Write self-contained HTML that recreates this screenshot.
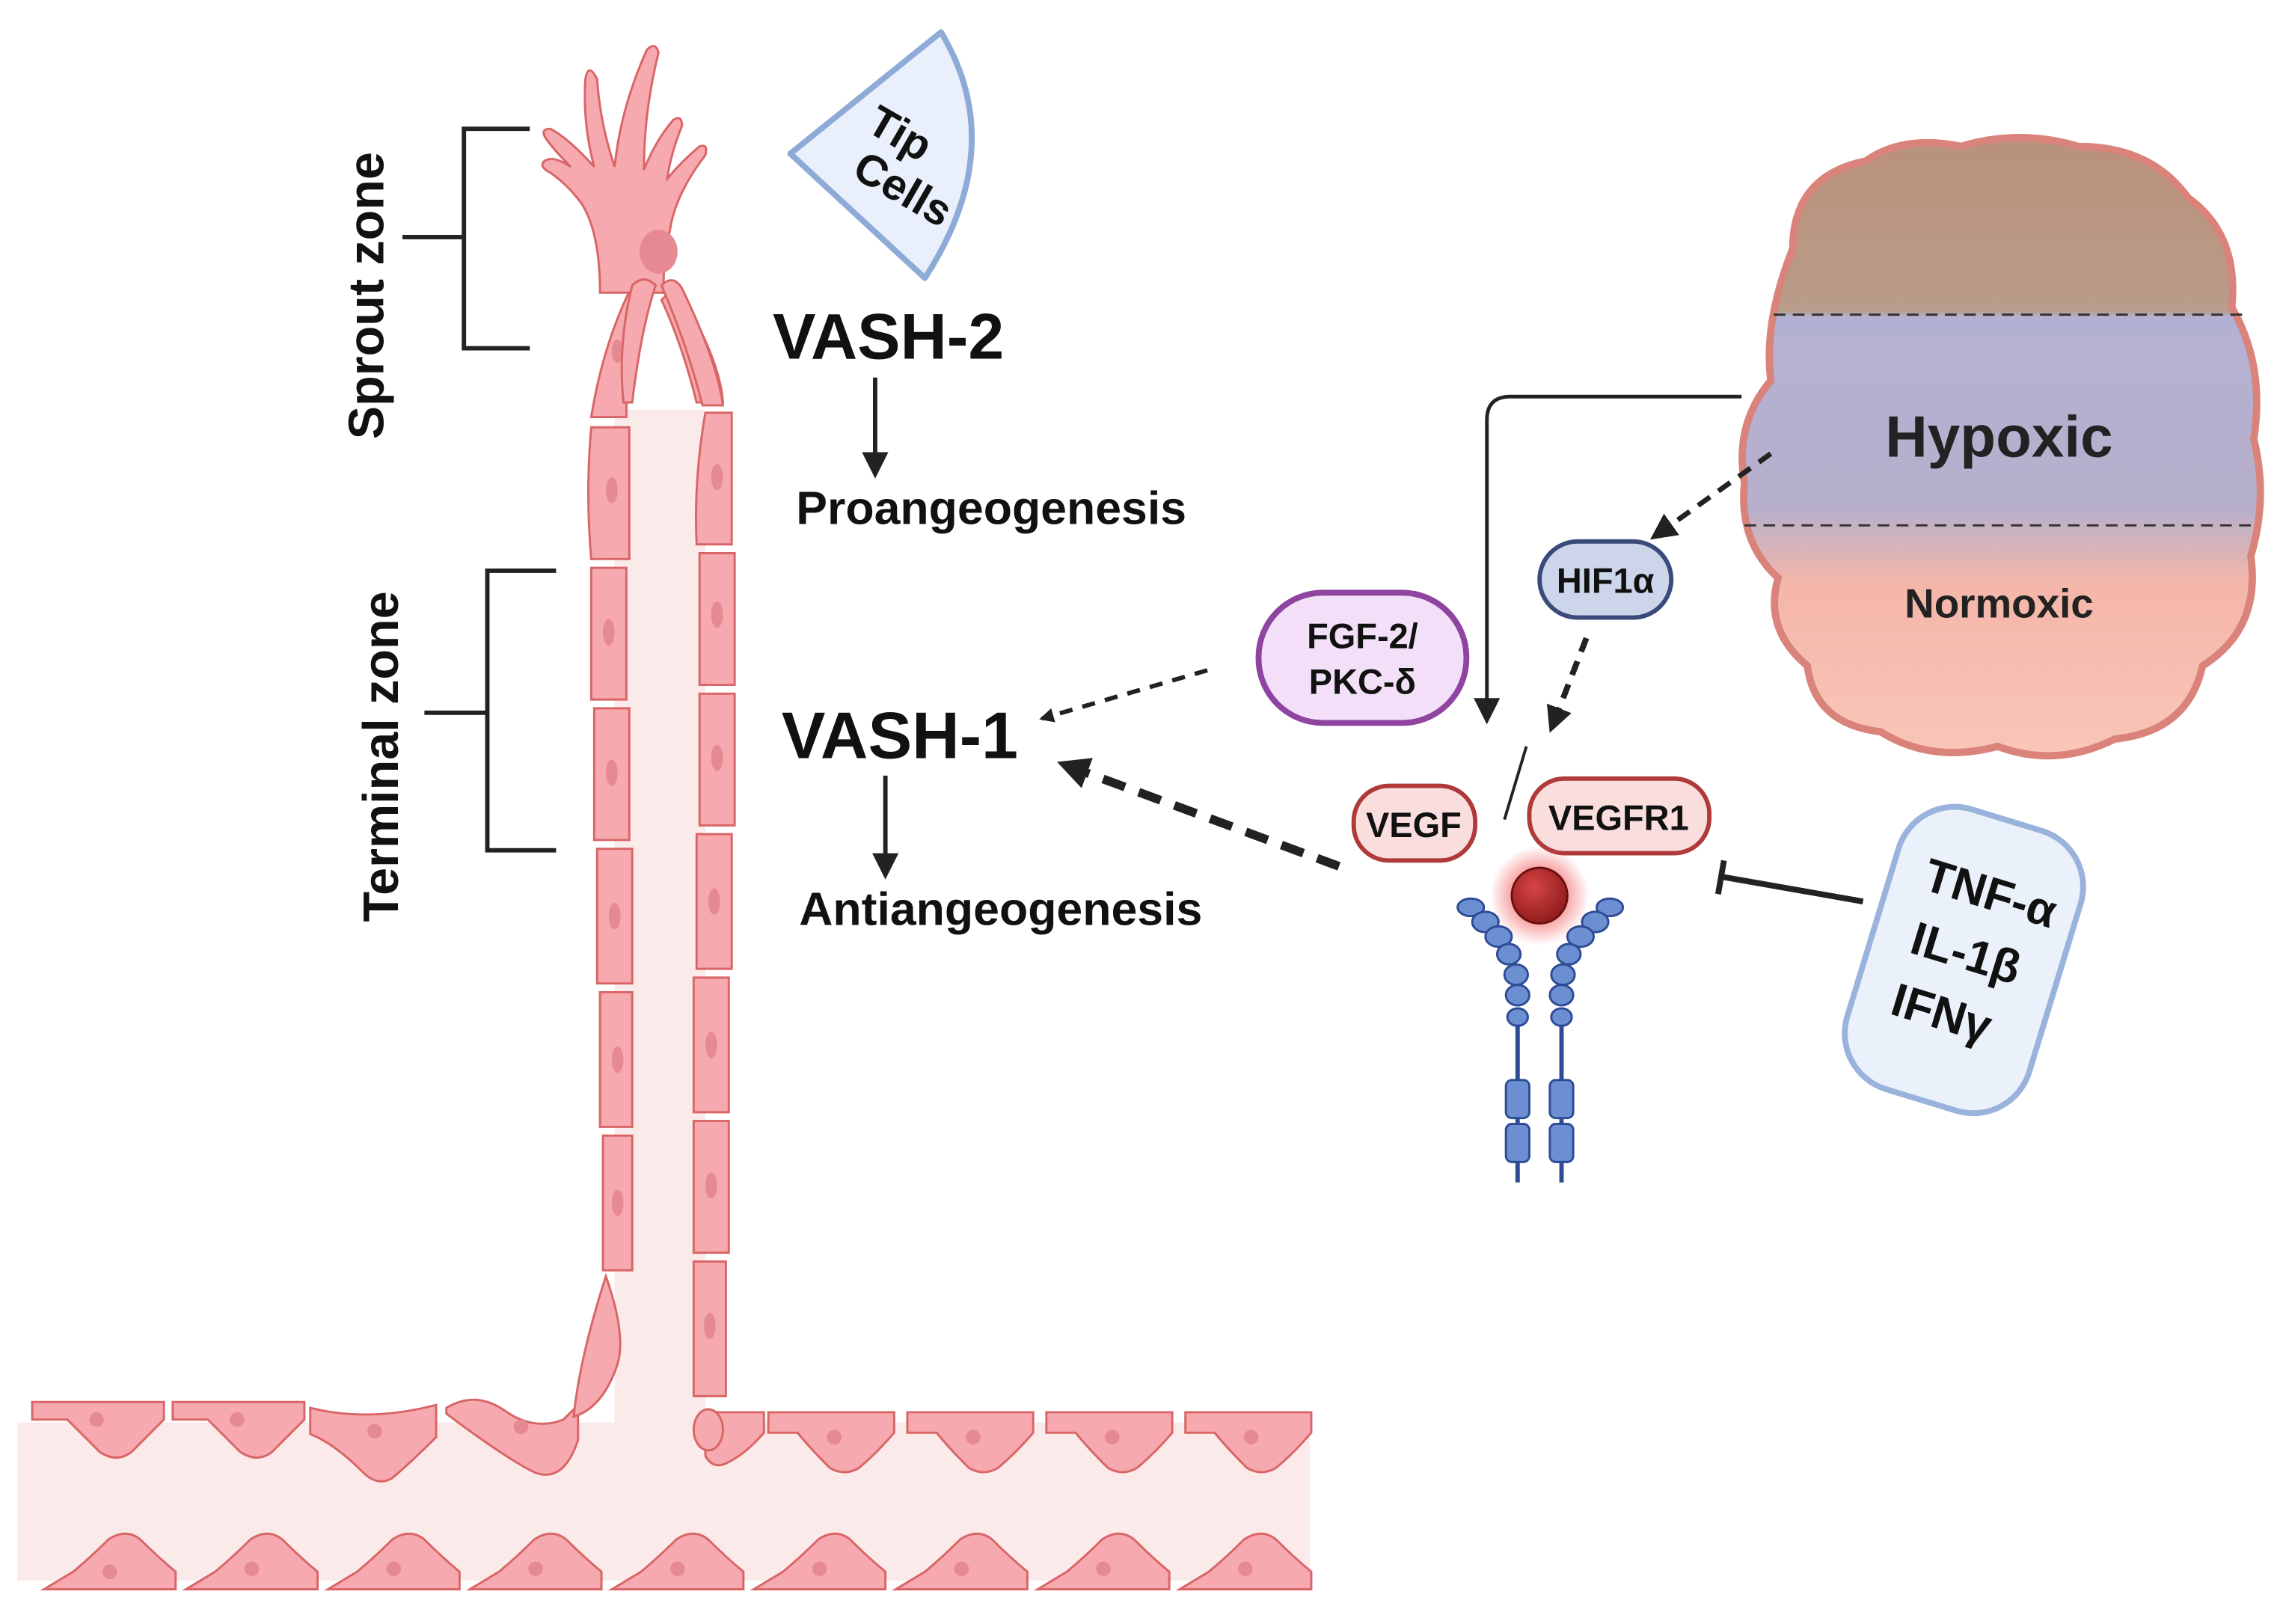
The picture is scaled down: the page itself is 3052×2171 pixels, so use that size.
<!DOCTYPE html>
<html><head><meta charset="utf-8"><style>
html,body{margin:0;padding:0;background:#fff;}
svg{display:block;}
text{font-family:"Liberation Sans",sans-serif;font-weight:bold;}
</style></head><body>
<svg width="3052" height="2171" viewBox="0 0 1560 1109.7" preserveAspectRatio="none" xmlns="http://www.w3.org/2000/svg">
<defs>
<marker id="ah" markerWidth="10" markerHeight="10" refX="8" refY="5" orient="auto" markerUnits="userSpaceOnUse"><path d="M0,0 L10,5 L0,10 Z" fill="#222"/></marker>
<marker id="ahL" markerWidth="22" markerHeight="22" refX="18" refY="11" orient="auto" markerUnits="userSpaceOnUse"><path d="M0,0 L22,11 L0,22 Z" fill="#222"/></marker>
<marker id="ahM" markerWidth="18" markerHeight="18" refX="15" refY="9" orient="auto" markerUnits="userSpaceOnUse"><path d="M0,0 L18,9 L0,18 Z" fill="#222"/></marker>
<linearGradient id="tum" x1="0" y1="0" x2="0" y2="1">
<stop offset="0" stop-color="#b9917a"/><stop offset="0.28" stop-color="#b99c8a"/>
<stop offset="0.29" stop-color="#b3b1d3"/><stop offset="0.6" stop-color="#b7b0cc"/>
<stop offset="0.72" stop-color="#f4b6a9"/><stop offset="1" stop-color="#f9c6b8"/>
</linearGradient>
<radialGradient id="ball" cx="0.4" cy="0.35" r="0.7"><stop offset="0" stop-color="#d54444"/><stop offset="1" stop-color="#8e1a1a"/></radialGradient>
<radialGradient id="glow"><stop offset="0.4" stop-color="#e33" stop-opacity="0.6"/><stop offset="1" stop-color="#e33" stop-opacity="0"/></radialGradient>
</defs>

<!-- vessel band -->
<rect x="12" y="972" width="883" height="108" fill="#fbeaea"/>
<rect x="420" y="280" width="62" height="700" fill="#fbeaea"/>
<!-- top cells row -->
<g fill="#f6a9ae" stroke="#d96566" stroke-width="1.5">
<path d="M22,958 h90 v12 q-10,10 -22,22 q-10,8 -22,0 q-12,-12 -22,-22 h-24 z"/>
<path d="M118,958 h90 v12 q-10,10 -22,22 q-10,8 -22,0 q-12,-12 -22,-22 h-24 z"/>
<path d="M212,962 q40,10 86,-2 v22 q-18,18 -30,28 q-10,6 -20,-4 q-20,-20 -36,-26 z"/>
<path d="M305,962 q20,-12 40,2 q20,14 40,6 l10,-10 v24 q-10,30 -30,22 q-20,-10 -60,-40 z"/>
<path d="M525,965 h86 v14 q-12,14 -24,24 q-10,6 -20,0 q-14,-14 -22,-24 h-20 z"/>
<path d="M620,965 h86 v14 q-12,14 -24,24 q-10,6 -20,0 q-14,-14 -22,-24 h-20 z"/>
<path d="M715,965 h86 v14 q-12,14 -24,24 q-10,6 -20,0 q-14,-14 -22,-24 h-20 z"/>
<path d="M810,965 h86 v14 q-12,14 -24,24 q-10,6 -20,0 q-14,-14 -22,-24 h-20 z"/>
<path d="M482,965 h40 v14 q-12,14 -24,20 q-10,6 -16,-4 z"/>
<ellipse cx="484" cy="977" rx="10" ry="14"/>
</g>
<!-- bottom cells row -->
<g fill="#f6a9ae" stroke="#d96566" stroke-width="1.5">
<path d="M30,1086 h90 v-12 q-12,-10 -24,-22 q-10,-8 -22,0 q-12,12 -24,22 z"/>
<path d="M127,1086 h90 v-12 q-12,-10 -24,-22 q-10,-8 -22,0 q-12,12 -24,22 z"/>
<path d="M224,1086 h90 v-12 q-12,-10 -24,-22 q-10,-8 -22,0 q-12,12 -24,22 z"/>
<path d="M321,1086 h90 v-12 q-12,-10 -24,-22 q-10,-8 -22,0 q-12,12 -24,22 z"/>
<path d="M418,1086 h90 v-12 q-12,-10 -24,-22 q-10,-8 -22,0 q-12,12 -24,22 z"/>
<path d="M515,1086 h90 v-12 q-12,-10 -24,-22 q-10,-8 -22,0 q-12,12 -24,22 z"/>
<path d="M612,1086 h90 v-12 q-12,-10 -24,-22 q-10,-8 -22,0 q-12,12 -24,22 z"/>
<path d="M709,1086 h90 v-12 q-12,-10 -24,-22 q-10,-8 -22,0 q-12,12 -24,22 z"/>
<path d="M806,1086 h90 v-12 q-12,-10 -24,-22 q-10,-8 -22,0 q-12,12 -24,22 z"/>
</g>
<g fill="#e58a92">
<circle cx="66" cy="970" r="5"/><circle cx="162" cy="970" r="5"/><circle cx="256" cy="978" r="5"/><circle cx="356" cy="975" r="5"/>
<circle cx="570" cy="982" r="5"/><circle cx="665" cy="982" r="5"/><circle cx="760" cy="982" r="5"/><circle cx="855" cy="982" r="5"/>
<circle cx="75" cy="1074" r="5"/><circle cx="172" cy="1072" r="5"/><circle cx="269" cy="1072" r="5"/><circle cx="366" cy="1072" r="5"/><circle cx="463" cy="1072" r="5"/><circle cx="560" cy="1072" r="5"/><circle cx="657" cy="1072" r="5"/><circle cx="754" cy="1072" r="5"/><circle cx="851" cy="1072" r="5"/>
</g>

<!-- sprout wall cells -->
<g fill="#f6a9ae" stroke="#d96566" stroke-width="1.5">
<path d="M432,195 q-20,40 -28,90 h24 q0,-40 10,-80 z"/>
<path d="M404,292 h26 v90 h-26 q-4,-45 0,-90 z"/>
<path d="M404,388 h24 v90 h-24 z"/>
<path d="M406,484 h24 v90 h-24 z"/>
<path d="M408,580 h24 v92 h-24 z"/>
<path d="M410,678 h22 v92 h-22 z"/>
<path d="M412,776 h20 v92 h-20 z"/>
<path d="M414,872 q14,40 8,60 q-10,30 -30,36 q4,-40 22,-96 z"/>
<path d="M462,195 q30,50 32,80 h-18 q-10,-40 -24,-70 z"/>
<path d="M482,282 h18 v90 h-24 q-2,-45 6,-90 z"/>
<path d="M478,378 h24 v90 h-24 z"/>
<path d="M478,474 h24 v90 h-24 z"/>
<path d="M476,570 h24 v92 h-24 z"/>
<path d="M474,668 h24 v92 h-24 z"/>
<path d="M474,766 h24 v90 h-24 z"/>
<path d="M474,862 h22 v92 h-22 z"/>
</g>
<g fill="#e58a92">
<ellipse cx="422" cy="240" rx="4" ry="8"/><ellipse cx="418" cy="335" rx="4" ry="9"/><ellipse cx="416" cy="432" rx="4" ry="9"/><ellipse cx="418" cy="528" rx="4" ry="9"/><ellipse cx="420" cy="626" rx="4" ry="9"/><ellipse cx="422" cy="724" rx="4" ry="9"/><ellipse cx="422" cy="822" rx="4" ry="9"/>
<ellipse cx="472" cy="230" rx="4" ry="8"/><ellipse cx="490" cy="326" rx="4" ry="9"/><ellipse cx="490" cy="420" rx="4" ry="9"/><ellipse cx="490" cy="518" rx="4" ry="9"/><ellipse cx="488" cy="616" rx="4" ry="9"/><ellipse cx="486" cy="714" rx="4" ry="9"/><ellipse cx="486" cy="810" rx="4" ry="9"/><ellipse cx="485" cy="906" rx="4" ry="9"/>
</g>
<!-- tip cell -->
<g fill="#f6a9ae" stroke="#d96566" stroke-width="1.5">
<path d="M410,200 q0,-40 -12,-60 q-10,-14 -22,-22 q-8,-4 -4,-8 q6,-4 18,4 q-10,-10 -16,-18 q-6,-8 2,-8 q12,6 30,26 q-8,-30 -6,-60 q2,-12 8,0 q2,30 12,60 q4,-40 22,-80 q6,-6 8,2 q-10,40 -10,80 q8,-20 20,-34 q6,-4 6,4 q-8,20 -10,36 q10,-12 22,-22 q6,-2 4,6 q-20,26 -24,50 q-6,30 -4,44 z"/>
</g>
<ellipse cx="450" cy="172" rx="13" ry="15" fill="#e58a92"/>
<g fill="#f6a9ae" stroke="#d96566" stroke-width="1.5">
<path d="M432,195 q8,-8 16,0 q-10,30 -16,80 l-6,0 q-4,-40 6,-80 z"/>
<path d="M452,195 q8,-8 14,2 q24,50 28,80 h-14 q-10,-40 -28,-82 z"/>
</g>

<!-- brackets -->
<g stroke="#222" stroke-width="3" fill="none">
<path d="M362,88 H317 V238 H362"/><path d="M275,162 H317"/>
<path d="M380,390 H333 V581 H380"/><path d="M290,487 H333"/>
</g>
<text transform="translate(262,202) rotate(-90)" text-anchor="middle" font-size="34" fill="#111">Sprout zone</text>
<text transform="translate(272,517) rotate(-90)" text-anchor="middle" font-size="34" fill="#111">Terminal zone</text>

<!-- tip cells fan -->
<path d="M540,105 L643,22 Q690,100 632,190 Z" fill="#e9f0fb" stroke="#8eaad6" stroke-width="4" stroke-linejoin="round"/>
<text transform="translate(610,100) rotate(30)" text-anchor="middle" font-size="30" fill="#111">Tip</text>
<text transform="translate(612,138) rotate(30)" text-anchor="middle" font-size="30" fill="#111">Cells</text>

<!-- VASH texts -->
<text x="528" y="245" font-size="44" fill="#111">VASH-2</text>
<line x1="598" y1="258" x2="598" y2="324" stroke="#222" stroke-width="3" marker-end="url(#ahM)"/>
<text x="544" y="358" font-size="32" fill="#111">Proangeogenesis</text>
<text x="534" y="518" font-size="45" fill="#111">VASH-1</text>
<line x1="605" y1="530" x2="605" y2="598" stroke="#222" stroke-width="3" marker-end="url(#ahM)"/>
<text x="546" y="632" font-size="32" fill="#111">Antiangeogenesis</text>

<!-- dashed arrows to VASH-1 -->
<line x1="825" y1="458" x2="712" y2="491" stroke="#222" stroke-width="3" stroke-dasharray="9,7" marker-end="url(#ah)"/>
<line x1="915" y1="592" x2="726" y2="522" stroke="#222" stroke-width="6" stroke-dasharray="16,10" marker-end="url(#ahL)"/>

<!-- tumor -->
<path d="M1225,170 Q1225,120 1275,110 Q1300,92 1340,100 Q1380,88 1420,100 Q1470,100 1495,135 Q1530,160 1525,210 Q1548,250 1540,300 Q1550,340 1538,380 Q1545,430 1505,455 Q1495,500 1445,505 Q1405,525 1365,510 Q1320,522 1285,500 Q1240,495 1235,455 Q1205,430 1215,395 Q1188,370 1192,330 Q1185,290 1210,260 Q1205,220 1225,170 Z" fill="url(#tum)" stroke="#d9837b" stroke-width="5"/>
<g stroke="#333" stroke-width="1.5" stroke-dasharray="8,5">
<line x1="1212" y1="215" x2="1535" y2="215"/><line x1="1192" y1="359" x2="1540" y2="359"/>
</g>
<text x="1366" y="312" text-anchor="middle" font-size="40" fill="#222">Hypoxic</text>
<text x="1366" y="422" text-anchor="middle" font-size="28" fill="#222">Normoxic</text>

<!-- connectors from tumor -->
<path d="M1190,271 H1032 Q1016,271 1016,287 V492" fill="none" stroke="#222" stroke-width="2.5" marker-end="url(#ahM)"/>
<line x1="1210" y1="310" x2="1130" y2="367" stroke="#222" stroke-width="3.5" stroke-dasharray="10,7" marker-end="url(#ahM)"/>
<line x1="1084" y1="436" x2="1060" y2="498" stroke="#222" stroke-width="4" stroke-dasharray="10,7" marker-end="url(#ahM)"/>
<line x1="1043" y1="510" x2="1028" y2="560" stroke="#222" stroke-width="2"/>

<!-- FGF box -->
<rect x="860" y="405" width="142" height="89" rx="44" fill="#f3e0f8" stroke="#8e44a0" stroke-width="4"/>
<text x="931" y="443" text-anchor="middle" font-size="24" fill="#111">FGF-2/</text>
<text x="931" y="474" text-anchor="middle" font-size="24" fill="#111">PKC-δ</text>
<!-- HIF -->
<rect x="1052" y="370" width="90" height="52" rx="26" fill="#cdd5ea" stroke="#3a4a7a" stroke-width="3"/>
<text x="1097" y="405" text-anchor="middle" font-size="24" fill="#111">HIF1α</text>
<!-- VEGF -->
<rect x="925" y="537" width="83" height="51" rx="24" fill="#f9dedd" stroke="#b03a3a" stroke-width="3"/>
<text x="966" y="572" text-anchor="middle" font-size="24" fill="#111">VEGF</text>
<rect x="1045" y="532" width="123" height="51" rx="24" fill="#f9dedd" stroke="#b03a3a" stroke-width="3"/>
<text x="1106" y="567" text-anchor="middle" font-size="24" fill="#111">VEGFR1</text>

<!-- ligand ball -->
<circle cx="1052" cy="612" r="34" fill="url(#glow)"/>
<circle cx="1052" cy="612" r="19" fill="url(#ball)" stroke="#6a1010" stroke-width="1.5"/>
<!-- receptor -->
<g fill="#6b8fd0" stroke="#2e4c96" stroke-width="1.5">
<ellipse cx="1005" cy="620" rx="9" ry="6"/><ellipse cx="1015" cy="630" rx="9" ry="7"/><ellipse cx="1024" cy="640" rx="9" ry="7"/><ellipse cx="1031" cy="652" rx="8" ry="7"/><ellipse cx="1036" cy="666" rx="8" ry="7"/><ellipse cx="1037" cy="680" rx="8" ry="7"/><ellipse cx="1037" cy="695" rx="7" ry="6"/>
<ellipse cx="1100" cy="620" rx="9" ry="6"/><ellipse cx="1090" cy="630" rx="9" ry="7"/><ellipse cx="1080" cy="640" rx="9" ry="7"/><ellipse cx="1072" cy="652" rx="8" ry="7"/><ellipse cx="1068" cy="666" rx="8" ry="7"/><ellipse cx="1067" cy="680" rx="8" ry="7"/><ellipse cx="1067" cy="695" rx="7" ry="6"/>
</g>
<g stroke="#2e4c96" stroke-width="3"><line x1="1037" y1="700" x2="1037" y2="808"/><line x1="1067" y1="700" x2="1067" y2="808"/></g>
<g fill="#6b8fd0" stroke="#2e4c96" stroke-width="1.5">
<rect x="1029" y="738" width="16" height="26" rx="4"/><rect x="1029" y="768" width="16" height="26" rx="4"/>
<rect x="1059" y="738" width="16" height="26" rx="4"/><rect x="1059" y="768" width="16" height="26" rx="4"/>
</g>

<!-- inhibition -->
<line x1="1273" y1="616" x2="1176" y2="599" stroke="#222" stroke-width="4"/>
<line x1="1178" y1="588" x2="1174" y2="611" stroke="#222" stroke-width="4"/>
<!-- cytokine box -->
<g transform="translate(1342,656) rotate(17)">
<rect x="-65" y="-100" width="130" height="200" rx="40" fill="#eaf1fb" stroke="#9ab3dd" stroke-width="4"/>
<text x="4" y="-38" text-anchor="middle" font-size="32" fill="#111">TNF-α</text>
<text x="0" y="6" text-anchor="middle" font-size="32" fill="#111">IL-1β</text>
<text x="-4" y="50" text-anchor="middle" font-size="32" fill="#111">IFNγ</text>
</g>
</svg>
</body></html>
